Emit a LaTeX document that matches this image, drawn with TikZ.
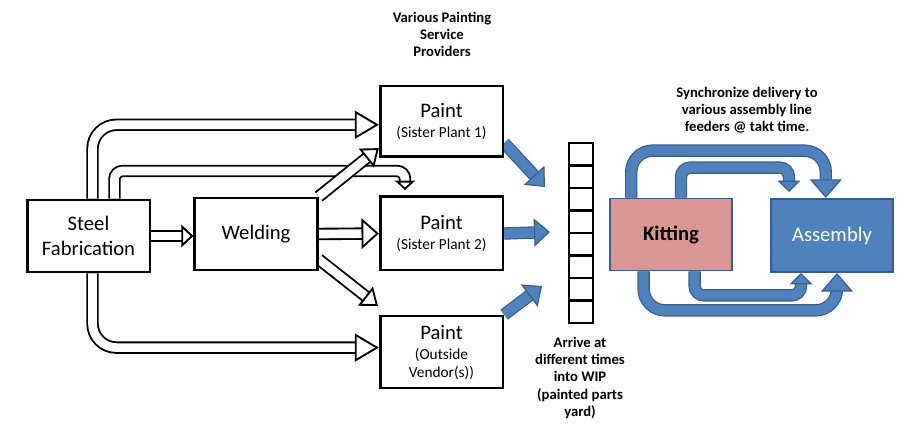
\documentclass[tikz,border=0pt]{standalone}
\usepackage{fontspec}
\setmainfont{Carlito}
\usetikzlibrary{arrows.meta, calc, positioning, backgrounds}
\definecolor{boxblue}{RGB}{79,129,189}
\definecolor{edgeblue}{RGB}{56,93,138}
\definecolor{kitpink}{RGB}{217,150,148}
\newcommand{\subtext}[1]{{\fontsize{11.5}{14}\selectfont #1}}

\begin{document}
\begin{tikzpicture}[x=0.75pt, y=-0.75pt,
        box/.style={draw, line width=2pt, fill=white, minimum width=92pt, minimum height=54pt,
            align=center, inner sep=0pt, font=\fontsize{15.5}{19}\selectfont},
        colbox/.style={draw=edgeblue, line width=1.3pt, minimum width=92pt, minimum height=54pt,
            inner sep=0pt, font=\fontsize{15.5}{19}\selectfont},
        cell/.style={draw, line width=2pt, fill=white, minimum width=18pt, minimum height=16.9pt, inner sep=0pt},
        hollow/.style 2 args={draw=black, double=white, line width=1.4pt, double distance=6.5pt,
            -{Triangle[fill=white, length=#1, width=#2, line width=1.4pt]}},
        bluearrow/.style 2 args={draw=edgeblue, double=boxblue, line width=0.9pt, double distance=7.5pt,
            -{Triangle[fill=boxblue, length=#1, width=#2, line width=0.9pt]}},
        note/.style={align=center, font=\fontsize{11}{12.8}\selectfont\bfseries}]
        \useasboundingbox (0,0) rectangle (920,441);

        \node [box] (steel) at (88.5, 236) {Steel\\Fabrication};
        \node [box] (weld) at (256, 234) {Welding};
        \node [box, minimum height=53pt] (paint1) at (441.5, 121.5) {Paint\\[-4pt]\subtext{(Sister Plant 1)}};
        \node [box, minimum height=55pt] (paint2) at (441.5, 233.5) {Paint\\[-4pt]\subtext{(Sister Plant 2)}};
        \node [box] (paint3) at (441.5, 352) {Paint\\[-4pt]\subtext{(Outside}\\[-5.5pt]\subtext{Vendor(s))}};
        \node [colbox, fill=kitpink, font=\fontsize{15.5}{19}\selectfont\bfseries] (kit) at (671, 234.5) {Kitting};
        \node [colbox, fill=boxblue, text=white, minimum height=55pt] (asm) at (832, 235.5) {Assembly};

        \foreach \i in {1,...,8}
            \node [cell] (wip\i) at (581, 131.75+22.5*\i) {};

        \coordinate (drop) at (405, 190);
        \coordinate (low) at (378, 306);
        \coordinate (in1) at (545, 187);
        \coordinate (in2) at (550, 232);
        \coordinate (in3) at (542, 286);
        \coordinate (tipa) at (789, 192);
        \coordinate (tipb) at (801, 273);

        \begin{scope}[on background layer]
        \draw [hollow={18pt}{21pt}, rounded corners=18pt] ($(steel.north)+(4,0)$) |- (paint1.183);
        \draw [hollow={7pt}{15pt}, rounded corners=6pt] ($(steel.north)+(26,0)$) |- (405,171) -- (drop);
        \draw [hollow={9pt}{17pt}] (steel.east) -- (steel.east -| weld.west);
        \draw [hollow={13pt}{23pt}] (weld.east) -- (paint2.west);
        \draw [hollow={12pt}{18pt}] (weld.north east) -- (paint1.203);
        \draw [hollow={12pt}{18pt}] (weld.-22) -- (low);
        \draw [hollow={18pt}{21pt}, rounded corners=18pt] ($(steel.south)+(4,0)$) |- (paint3.176);

        \draw [bluearrow={12pt}{21pt}] (paint1.-19) -- (in1);
        \draw [bluearrow={12pt}{21pt}] (paint2.east) -- (in2);
        \draw [bluearrow={12pt}{21pt}] (paint3.north east) -- (in3);

        \draw [bluearrow={14pt}{24pt}, rounded corners=16pt] ($(kit.north west)!0.18!(kit.north east)$)
            -- ++(0,-47) -| ($(asm.north west)!0.45!(asm.north east)$);
        \draw [bluearrow={8.5pt}{17pt}, rounded corners=7pt] ($(kit.north west)!0.58!(kit.north east)$)
            -- ++(0,-30) -| (tipa);
        \draw [bluearrow={8.5pt}{17pt}, rounded corners=7pt] ($(kit.south west)!0.69!(kit.south east)$)
            -- ++(0,24) -| (tipb);
        \draw [bluearrow={14pt}{24pt}, rounded corners=16pt] ($(kit.south west)!0.28!(kit.south east)$)
            -- ++(0,39) -| ($(asm.south west)!0.54!(asm.south east)$);
        \end{scope}

        \node [note] (providers) at (442, 34) {Various Painting\\Service\\Providers};
        \node [note] (sync) at (747, 110) {Synchronize delivery to\\various assembly line\\feeders @ takt time.};
        \node [note] (wipnote) at (580, 378) {Arrive at\\different times\\into WIP\\(painted parts\\yard)};
\end{tikzpicture}
\end{document}
